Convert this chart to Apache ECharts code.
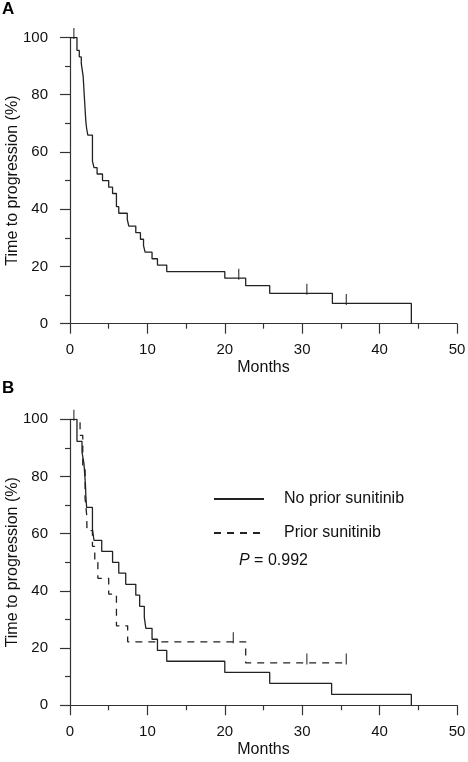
<!DOCTYPE html>
<html>
<head>
<meta charset="utf-8">
<script src="https://cdn.jsdelivr.net/npm/echarts@6/dist/echarts.min.js"></script>
<style>
html,body{margin:0;padding:0;background:#fff;}
#c{width:468px;height:762px;}
</style>
</head>
<body>
<div id="c"></div>
<script>
// ---- Data ----
// Panel A: all patients (Kaplan-Meier, months / % progression-free)
const monthsA = [0, 0.9, 1.2, 1.46, 1.7, 1.75, 1.8, 1.85, 1.9, 1.95, 2.0, 2.05, 2.15, 2.3, 2.9, 3.1, 3.5, 4.2, 5.0, 5.5, 6.0, 6.3, 7.4, 7.6, 8.5, 9.1, 9.5, 9.7, 10.6, 11.3, 12.5, 20.0, 22.7, 25.8, 33.9, 44.1];
const pctA    = [100, 95.5, 93.2, 90.9, 86.4, 84.1, 81.8, 79.5, 77.3, 75.0, 72.7, 70.5, 68.2, 65.9, 56.8, 54.5, 52.3, 50.0, 47.7, 45.5, 40.9, 38.6, 36.4, 34.1, 31.8, 29.5, 27.3, 25.0, 22.7, 20.5, 18.2, 15.9, 13.3, 10.6, 7.1, 0];
const censorMonthsA = [0.5, 21.8, 30.6, 35.7];
const censorPctA    = [100, 15.9, 10.6, 7.1];

// Panel B: No prior sunitinib (solid)
const monthsNoPrior = [0, 0.9, 1.55, 1.8, 1.9, 2.0, 2.05, 2.15, 2.9, 3.1, 4.1, 5.5, 6.3, 7.2, 8.5, 9.0, 9.6, 9.8, 10.6, 11.3, 12.5, 20.0, 25.8, 33.8, 44.1];
const pctNoPrior    = [100, 92.3, 88.5, 84.6, 80.8, 76.9, 73.1, 69.2, 61.5, 57.7, 53.8, 50.0, 46.2, 42.3, 38.5, 34.6, 30.8, 26.9, 23.1, 19.2, 15.4, 11.5, 7.7, 3.8, 0];
const censorMonthsNoPrior = [0.5];
const censorPctNoPrior    = [100];

// Panel B: Prior sunitinib (dashed)
const monthsPrior = [0, 1.3, 1.65, 1.95, 2.15, 2.2, 2.9, 3.2, 3.6, 5.0, 6.0, 7.45, 22.7, 35.7];
const pctPrior    = [100, 94.4, 83.3, 72.2, 66.7, 61.1, 55.6, 50.0, 44.4, 38.9, 27.8, 22.2, 14.8, 14.8];
const censorMonthsPrior = [21.1, 30.6, 35.7];
const censorPctPrior    = [22.2, 14.8, 14.8];

// Labels
const seriesNames = ['No prior sunitinib', 'Prior sunitinib'];
const xTitle = 'Months';
const yTitle = 'Time to progression (%)';
const panelLabels = ['A', 'B'];
const pValueText = '0.992';

// ---- Helpers ----
const zip = (xs, ys) => xs.map((x, i) => [x, ys[i]]);
const FONT = '"Liberation Sans", Arial, Helvetica, sans-serif';
const AX = '#333';
const LN = '#222';
const TXT = '#111';

function xAxisCfg(gridIndex) {
  return {
    type: 'value', gridIndex, min: 0, max: 50, interval: 10,
    name: xTitle, nameLocation: 'middle', nameGap: 36, nameMoveOverlap: false,
    nameTextStyle: {fontFamily: FONT, fontSize: 16, color: TXT},
    axisLine: {show: true, onZero: false, lineStyle: {color: AX, width: 1.2}},
    axisTick: {show: true, inside: false, length: 10, lineStyle: {color: AX, width: 1.2}},
    minorTick: {show: true, splitNumber: 2, length: 5, lineStyle: {color: AX, width: 1.2}},
    axisLabel: {fontFamily: FONT, fontSize: 15, color: TXT, margin: 19},
    splitLine: {show: false}
  };
}
function yAxisCfg(gridIndex) {
  return {
    type: 'value', gridIndex, min: 0, max: 100, interval: 20,
    name: yTitle, nameLocation: 'middle', nameGap: 49, nameRotate: 90, nameMoveOverlap: false,
    nameTextStyle: {fontFamily: FONT, fontSize: 16, color: TXT},
    axisLine: {show: true, onZero: false, lineStyle: {color: AX, width: 1.2}},
    axisTick: {show: true, inside: false, length: 10, lineStyle: {color: AX, width: 1.2}},
    minorTick: {show: true, splitNumber: 2, length: 5, lineStyle: {color: AX, width: 1.2}},
    axisLabel: {fontFamily: FONT, fontSize: 15, color: TXT, margin: 22},
    splitLine: {show: false}
  };
}
function censorSeries(name, xi, months, pct) {
  return {
    name, type: 'scatter', xAxisIndex: xi, yAxisIndex: xi,
    data: zip(months, pct), symbol: 'rect', symbolSize: [1.3, 11], symbolOffset: [0, -4],
    itemStyle: {color: LN}, silent: true, z: 3
  };
}

const chart = echarts.init(document.getElementById('c'), null, {renderer: 'canvas'});
chart.setOption({
  animation: false,
  backgroundColor: '#fff',
  grid: [
    {left: 70, top: 37.5, width: 387, height: 286.2, containLabel: false, outerBoundsMode: 'none'},
    {left: 70, top: 419.3, width: 387, height: 286, containLabel: false, outerBoundsMode: 'none'}
  ],
  xAxis: [xAxisCfg(0), xAxisCfg(1)],
  yAxis: [yAxisCfg(0), yAxisCfg(1)],
  legend: {
    data: seriesNames, orient: 'vertical', left: 213, top: 491, padding: 0,
    itemWidth: 50, itemHeight: 14, itemGap: 18,
    itemStyle: {opacity: 0},
    textStyle: {fontFamily: FONT, fontSize: 16, color: TXT, padding: [0, 0, 0, 15]},
    selectedMode: false
  },
  series: [
    {name: 'All patients', type: 'line', xAxisIndex: 0, yAxisIndex: 0, step: 'end',
     data: zip(monthsA, pctA), symbol: 'none', lineStyle: {color: LN, width: 1.3}},
    censorSeries('censA', 0, censorMonthsA, censorPctA),
    {name: seriesNames[0], type: 'line', xAxisIndex: 1, yAxisIndex: 1, step: 'end',
     data: zip(monthsNoPrior, pctNoPrior), symbol: 'none', color: LN,
     lineStyle: {color: LN, width: 1.3}},
    censorSeries('censNo', 1, censorMonthsNoPrior, censorPctNoPrior),
    {name: seriesNames[1], type: 'line', xAxisIndex: 1, yAxisIndex: 1, step: 'end',
     data: zip(monthsPrior, pctPrior), symbol: 'none', color: LN,
     lineStyle: {color: LN, width: 1.3, type: [7, 6]}},
    censorSeries('censPrior', 1, censorMonthsPrior, censorPctPrior)
  ],
  graphic: [
    {type: 'text', left: 2, top: 1, style: {text: panelLabels[0], font: 'bold 17px "Liberation Sans", Arial', fill: '#000'}},
    {type: 'text', left: 2, top: 380, style: {text: panelLabels[1], font: 'bold 17px "Liberation Sans", Arial', fill: '#000'}},
    {type: 'text', left: 239, top: 553, style: {
      text: '{i|P} = ' + pValueText,
      font: '16px "Liberation Sans", Arial', fill: TXT,
      rich: {i: {fontStyle: 'italic', fontFamily: FONT, fontSize: 16, fill: TXT}}
    }}
  ]
});
</script>
</body>
</html>
